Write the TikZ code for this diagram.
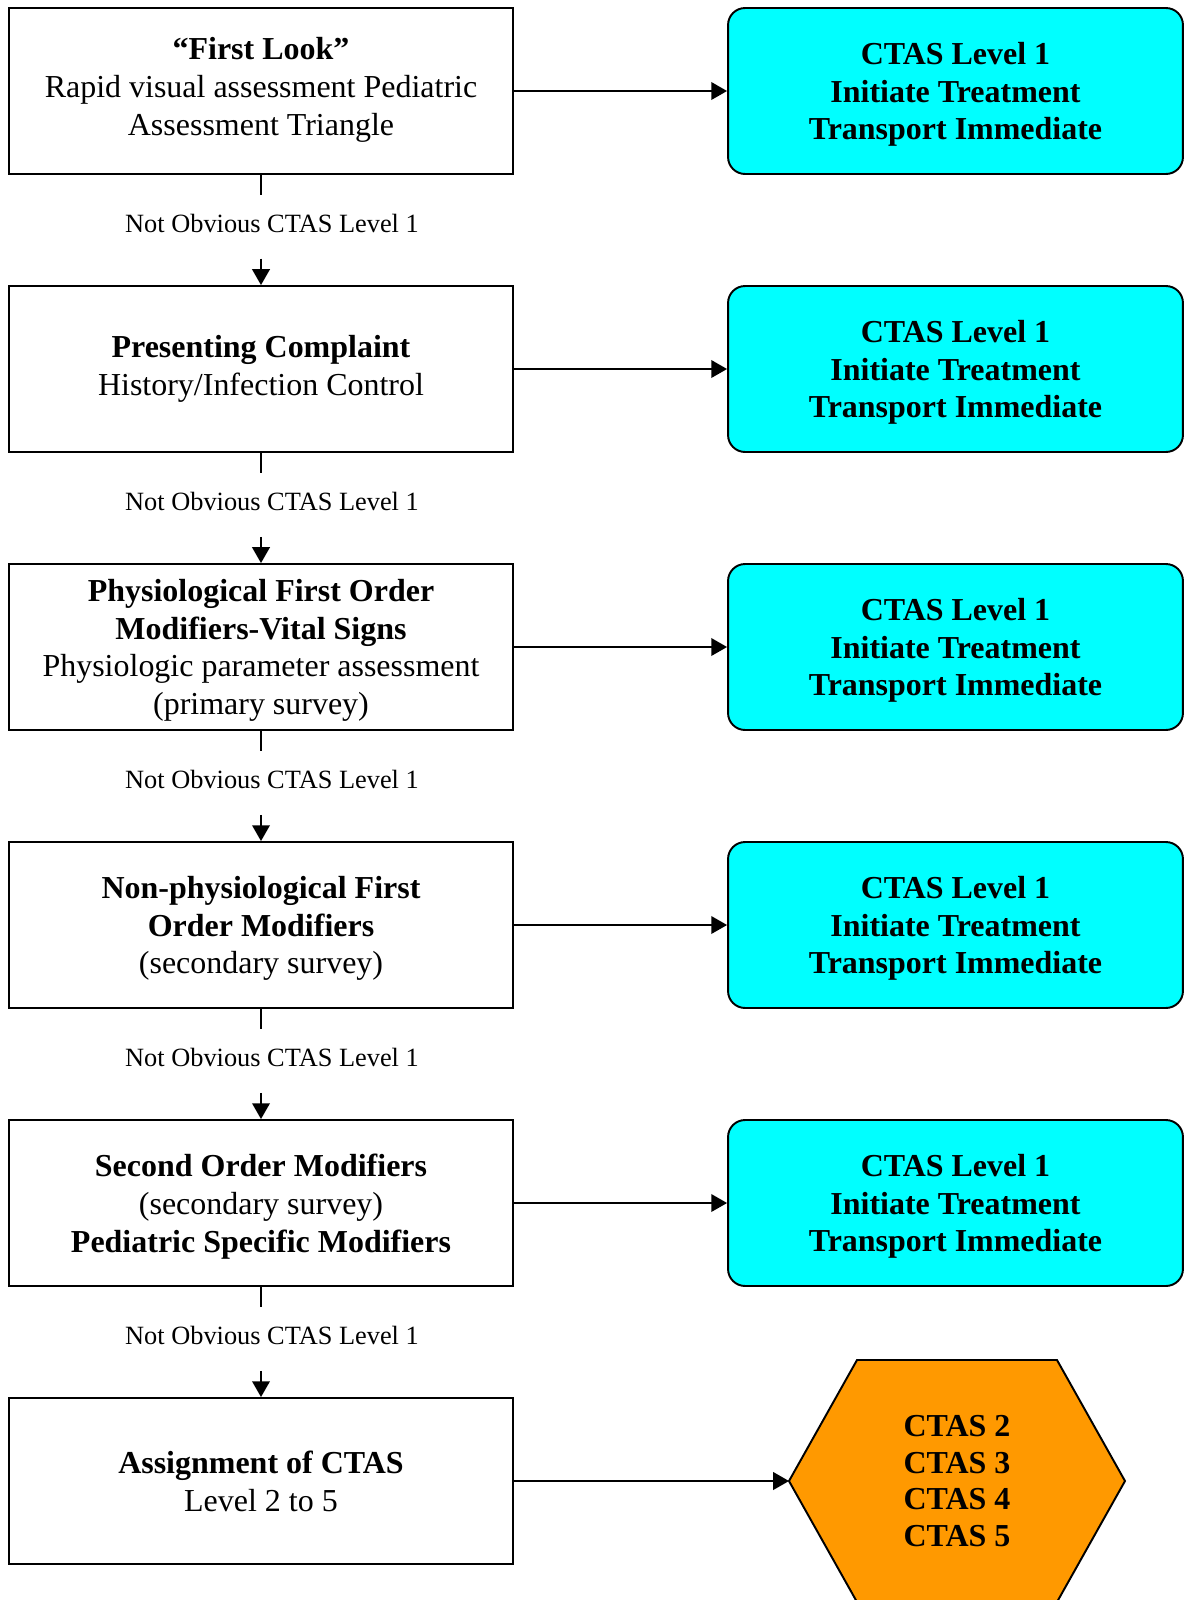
\documentclass[tikz,border=0pt]{standalone}
\usepackage{fontspec}
\setmainfont{Liberation Serif}
\usepackage{tikz}
\usepackage{xcolor}
\usetikzlibrary{arrows.meta,calc,positioning,shapes}
\definecolor{levelcyan}{RGB}{0,255,255}
\definecolor{ctasorange}{RGB}{255,153,0}
\newcommand{\boxtxt}{\fontsize{18.2pt}{21.5pt}\selectfont}
\newcommand{\notetxt}{\fontsize{15pt}{18pt}\selectfont}
\tikzset{%
	process/.style = {draw, rectangle, line width=1.1pt, fill=white, minimum width=10.1cm, minimum height=3.32cm, text depth=0pt, align=center, font=\boxtxt},
	level/.style   = {draw, rectangle, rounded corners=0.34cm, line width=1.1pt, fill=levelcyan, minimum width=9.1cm, minimum height=3.32cm, text depth=0pt, align=center, font=\boxtxt\bfseries},
	note/.style    = {inner ysep=0.38cm, text depth=0.13cm, font=\notetxt},
	hexa/.style    = {draw, line width=1.1pt, fill=ctasorange},
	arrow/.style   = {line width=1.1pt, -{Triangle[length=9pt,width=10pt]}},
}

\begin{document}
\begin{tikzpicture}[x=0.02cm,y=-0.02cm]
	\useasboundingbox (0,0) rectangle (1187,1600);
	% assessment steps
	\node[process,text depth=0.18cm] (b1) at (261,91) {\textbf{“First Look”}\\Rapid visual assessment Pediatric\\Assessment Triangle};
	\node[process,text depth=0.14cm] (b2) at (261,369) {\textbf{Presenting Complaint}\\History/Infection Control};
	\node[process] (b3) at (261,647) {\textbf{Physiological First Order}\\\textbf{Modifiers-Vital Signs}\\Physiologic parameter assessment\\(primary survey)};
	\node[process] (b4) at (261,925) {\textbf{Non-physiological First}\\\textbf{Order Modifiers}\\(secondary survey)};
	\node[process] (b5) at (261,1203) {\textbf{Second Order Modifiers}\\(secondary survey)\\\textbf{Pediatric Specific Modifiers}};
	\node[process] (b6) at (261,1481) {\textbf{Assignment of CTAS}\\Level 2 to 5};
	
	\node[note] (n1) at (272,227) {Not Obvious CTAS Level 1};
	\node[note] (n2) at (272,505) {Not Obvious CTAS Level 1};
	\node[note] (n3) at (272,783) {Not Obvious CTAS Level 1};
	\node[note] (n4) at (272,1061) {Not Obvious CTAS Level 1};
	\node[note] (n5) at (272,1339) {Not Obvious CTAS Level 1};
	
	\draw[line width=1.1pt] (b1) -- (b1 |- n1.north);
	\draw[arrow] (b1 |- n1.south) -- (b2);
	\draw[line width=1.1pt] (b2) -- (b2 |- n2.north);
	\draw[arrow] (b2 |- n2.south) -- (b3);
	\draw[line width=1.1pt] (b3) -- (b3 |- n3.north);
	\draw[arrow] (b3 |- n3.south) -- (b4);
	\draw[line width=1.1pt] (b4) -- (b4 |- n4.north);
	\draw[arrow] (b4 |- n4.south) -- (b5);
	\draw[line width=1.1pt] (b5) -- (b5 |- n5.north);
	\draw[arrow] (b5 |- n5.south) -- (b6);
	
	% level 1 outcomes
	\node[level] (c1) at (955.5,91) {CTAS Level 1\\Initiate Treatment\\Transport Immediate};
	\node[level] (c2) at (955.5,369) {CTAS Level 1\\Initiate Treatment\\Transport Immediate};
	\node[level] (c3) at (955.5,647) {CTAS Level 1\\Initiate Treatment\\Transport Immediate};
	\node[level] (c4) at (955.5,925) {CTAS Level 1\\Initiate Treatment\\Transport Immediate};
	\node[level] (c5) at (955.5,1203) {CTAS Level 1\\Initiate Treatment\\Transport Immediate};
	
	\draw[arrow] (b1) -- (c1);
	\draw[arrow] (b2) -- (c2);
	\draw[arrow] (b3) -- (c3);
	\draw[arrow] (b4) -- (c4);
	\draw[arrow] (b5) -- (c5);
	
	% remaining levels
	\coordinate (hw) at (789,1481);
	\draw[hexa] (hw) -- ++(68,-121) -- ++(200,0) -- ++(68,121) -- ++(-68,121) -- ++(-200,0) -- cycle;
	\node[align=center, font=\fontsize{18.2pt}{21pt}\selectfont\bfseries] (hex) at (957,1481) {CTAS 2\\CTAS 3\\CTAS 4\\CTAS 5};
	\draw[arrow] (b6) -- (hw);
\end{tikzpicture}
\end{document}
